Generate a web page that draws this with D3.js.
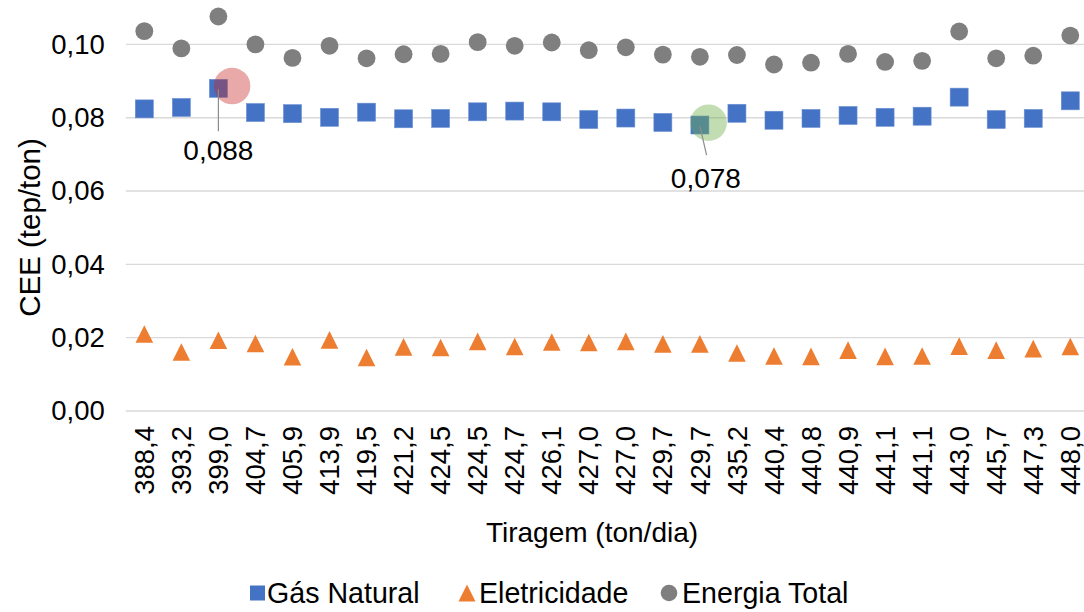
<!DOCTYPE html>
<html>
<head>
<meta charset="utf-8">
<script src="https://cdn.jsdelivr.net/npm/d3@7"></script>
<style>
  html, body { margin: 0; padding: 0; background: #fff; }
  svg { display: block; font-family: "Liberation Sans", Arial, sans-serif; }
</style>
</head>
<body>
<svg id="chart" width="1084" height="612"></svg>
<script>
// Tiragem (ton/dia) for each sample
const categories = ["388,4","393,2","399,0","404,7","405,9","413,9","419,5","421,2","424,5","424,5",
  "424,7","426,1","427,0","427,0","429,7","429,7","435,2","440,4","440,8","440,9",
  "441,1","441,1","443,0","445,7","447,3","448,0"];

// CEE (tep/ton) per energy source
const gasNatural = [0.0824, 0.0828, 0.0880, 0.0814, 0.0811, 0.0801, 0.0815, 0.0797, 0.0798, 0.0816,
  0.0818, 0.0816, 0.0795, 0.0799, 0.0787, 0.0780, 0.0812, 0.0793, 0.0798, 0.0806,
  0.0801, 0.0804, 0.0856, 0.0795, 0.0798, 0.0846];
const eletricidade = [0.0210, 0.0161, 0.0193, 0.0184, 0.0148, 0.0194, 0.0146, 0.0175, 0.0173, 0.0190,
  0.0176, 0.0188, 0.0187, 0.0190, 0.0183, 0.0183, 0.0158, 0.0150, 0.0149, 0.0166,
  0.0149, 0.0150, 0.0177, 0.0166, 0.0170, 0.0176];
const energiaTotal = [0.1036, 0.0989, 0.1076, 0.1000, 0.0963, 0.0996, 0.0962, 0.0973, 0.0974, 0.1006,
  0.0996, 0.1005, 0.0984, 0.0992, 0.0972, 0.0966, 0.0971, 0.0945, 0.0950, 0.0974,
  0.0952, 0.0955, 0.1035, 0.0962, 0.0969, 0.1024];

const yTicks = [0, 0.02, 0.04, 0.06, 0.08, 0.10];
const seriesNames = ["Gás Natural", "Eletricidade", "Energia Total"];

// Highlighted points (index into categories, value of Gás Natural)
const highlightIndex = [2, 15];
const highlightValue = [0.088, 0.078];

// ---- layout & style ----
const plot = { left: 125.8, right: 1088.8, top: 44.35, bottom: 411 };
const fontSize = 27.5;
const colors = { gas: "#4472C4", ele: "#ED7D31", tot: "#7F7F7F", grid: "#D9D9D9" };
const highlightStyle = [
  { fill: "rgb(200,40,40)", opacity: 0.4, dx: 13.7, dy: -2.3, r: 18.3, lineTo: [0, 43], textAt: [0, 72] },
  { fill: "rgb(112,173,71)", opacity: 0.42, dx: 8.7, dy: -2.3, r: 18.3, lineTo: [6.7, 30], textAt: [6, 63] }
];

const fmt = v => d3.format(".2f")(v).replace(".", ",");
const fmt3 = v => d3.format(".3f")(v).replace(".", ",");

const svg = d3.select("#chart");
const idx = categories.map((_, i) => i);

const x = d3.scaleBand().domain(idx).range([plot.left, plot.right]).padding(0);
const cx = i => x(i) + x.bandwidth() / 2;
const y = d3.scaleLinear().domain([0, 0.10]).range([plot.bottom, plot.top]);

// gridlines
svg.append("g")
  .selectAll("line")
  .data(yTicks)
  .join("line")
  .attr("x1", plot.left).attr("x2", plot.right)
  .attr("y1", d => y(d)).attr("y2", d => y(d))
  .attr("stroke", colors.grid).attr("stroke-width", 1.4);

// y axis labels
const yAxis = svg.append("g")
  .attr("transform", `translate(${plot.left},0)`)
  .call(d3.axisLeft(y).tickValues(yTicks).tickFormat(fmt).tickSize(0).tickPadding(21));
yAxis.select(".domain").remove();
yAxis.selectAll("text").attr("font-size", fontSize).attr("fill", "#000")
  .attr("font-family", "Liberation Sans, Arial, sans-serif");

// x axis labels (rotated)
const xAxis = svg.append("g")
  .attr("transform", `translate(0,${plot.bottom})`)
  .call(d3.axisBottom(x).tickFormat(i => categories[i]).tickSize(0));
xAxis.select(".domain").remove();
xAxis.selectAll("text")
  .attr("font-size", fontSize).attr("fill", "#000")
  .attr("font-family", "Liberation Sans, Arial, sans-serif")
  .attr("text-anchor", "end")
  .attr("transform", "translate(0,15) rotate(-90)")
  .attr("x", 0).attr("y", 0).attr("dy", "0.35em");

// axis titles
svg.append("text")
  .attr("transform", `translate(40,227.5) rotate(-90)`)
  .attr("text-anchor", "middle")
  .attr("font-size", 29.5)
  .text("CEE (tep/ton)");
svg.append("text")
  .attr("x", 592).attr("y", 542)
  .attr("text-anchor", "middle")
  .attr("font-size", 28)
  .text("Tiragem (ton/dia)");

// marker shapes
const sq = 18, tri = 17.6, circR = 8.9;
const triPath = s => `M0,${-s / 2}L${s / 2},${s / 2}L${-s / 2},${s / 2}Z`;

// Energia Total
svg.append("g").selectAll("circle")
  .data(energiaTotal)
  .join("circle")
  .attr("cx", (d, i) => cx(i)).attr("cy", d => y(d))
  .attr("r", circR).attr("fill", colors.tot);

// Gás Natural
svg.append("g").selectAll("rect")
  .data(gasNatural)
  .join("rect")
  .attr("x", (d, i) => cx(i) - sq / 2).attr("y", d => y(d) - sq / 2)
  .attr("width", sq).attr("height", sq)
  .attr("fill", colors.gas)
  .attr("stroke", "#6A8FD3").attr("stroke-width", 0.6);

// Eletricidade
svg.append("g").selectAll("path")
  .data(eletricidade)
  .join("path")
  .attr("d", triPath(tri))
  .attr("transform", (d, i) => `translate(${cx(i)},${y(d)})`)
  .attr("fill", colors.ele);

// highlight callouts
highlightIndex.forEach((ci, k) => {
  const st = highlightStyle[k];
  const px = cx(ci), py = y(highlightValue[k]);
  svg.append("circle")
    .attr("cx", px + st.dx).attr("cy", py + st.dy).attr("r", st.r)
    .attr("fill", st.fill).attr("fill-opacity", st.opacity);
  svg.append("line")
    .attr("x1", px).attr("y1", py + 1)
    .attr("x2", px + st.lineTo[0]).attr("y2", py + st.lineTo[1])
    .attr("stroke", "#8C8C8C").attr("stroke-width", 1.2);
  svg.append("text")
    .attr("x", px + st.textAt[0]).attr("y", py + st.textAt[1])
    .attr("text-anchor", "middle")
    .attr("font-size", 28)
    .text(fmt3(highlightValue[k]));
});

// legend
const legend = svg.append("g").attr("font-size", 28.6);
const legendItems = [
  { name: seriesNames[0], x: 250, shape: "square", color: colors.gas },
  { name: seriesNames[1], x: 458, shape: "triangle", color: colors.ele },
  { name: seriesNames[2], x: 661, shape: "circle", color: colors.tot }
];
const legY = 593;
legendItems.forEach(it => {
  const g = legend.append("g");
  if (it.shape === "square") {
    g.append("rect").attr("x", it.x).attr("y", legY - 7.5).attr("width", 15).attr("height", 15).attr("fill", it.color);
  } else if (it.shape === "triangle") {
    g.append("path").attr("d", triPath(17)).attr("transform", `translate(${it.x + 9},${legY})`).attr("fill", it.color);
  } else {
    g.append("circle").attr("cx", it.x + 8).attr("cy", legY).attr("r", 8.3).attr("fill", it.color);
  }
  g.append("text").attr("x", it.x + (it.shape === "square" ? 17 : 21)).attr("y", legY + 10).text(it.name);
});
</script>
</body>
</html>
